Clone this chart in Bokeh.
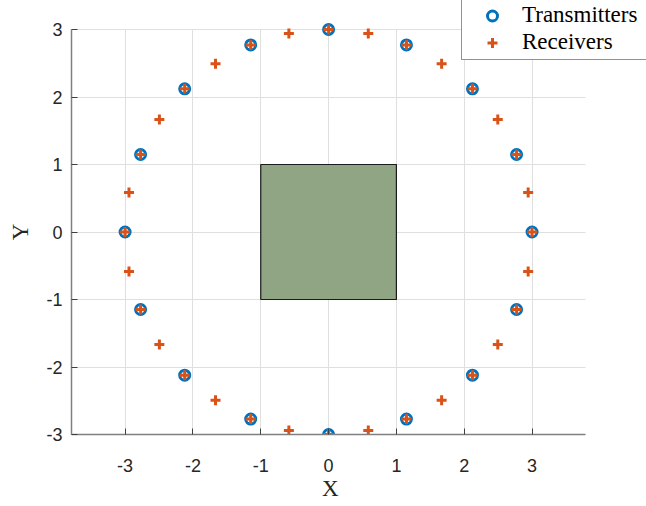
from bokeh.plotting import figure
from bokeh.models import Range1d, FixedTicker, Legend, LegendItem
from bokeh.embed import file_html
from bokeh.resources import INLINE

# Transmitters: 16 positions on a circle of radius 3
tx_x = [3.0, 2.7716, 2.1213, 1.1481, 0.0, -1.1481, -2.1213, -2.7716,
        -3.0, -2.7716, -2.1213, -1.1481, 0.0, 1.1481, 2.1213, 2.7716]
tx_y = [0.0, 1.1481, 2.1213, 2.7716, 3.0, 2.7716, 2.1213, 1.1481,
        0.0, -1.1481, -2.1213, -2.7716, -3.0, -2.7716, -2.1213, -1.1481]

# Receivers: 32 positions on the same circle
rx_x = [3.0, 2.9424, 2.7716, 2.4944, 2.1213, 1.6667, 1.1481, 0.5853,
        0.0, -0.5853, -1.1481, -1.6667, -2.1213, -2.4944, -2.7716, -2.9424,
        -3.0, -2.9424, -2.7716, -2.4944, -2.1213, -1.6667, -1.1481, -0.5853,
        0.0, 0.5853, 1.1481, 1.6667, 2.1213, 2.4944, 2.7716, 2.9424]
rx_y = [0.0, 0.5853, 1.1481, 1.6667, 2.1213, 2.4944, 2.7716, 2.9424,
        3.0, 2.9424, 2.7716, 2.4944, 2.1213, 1.6667, 1.1481, 0.5853,
        0.0, -0.5853, -1.1481, -1.6667, -2.1213, -2.4944, -2.7716, -2.9424,
        -3.0, -2.9424, -2.7716, -2.4944, -2.1213, -1.6667, -1.1481, -0.5853]

# Square object in the middle
obj_left = [-1.0]
obj_right = [1.0]
obj_bottom = [-1.0]
obj_top = [1.0]

x_ticks = [-3, -2, -1, 0, 1, 2, 3]
x_tick_labels = ["-3", "-2", "-1", "0", "1", "2", "3"]
y_ticks = [-3, -2, -1, 0, 1, 2, 3]
y_tick_labels = ["-3", "-2", "-1", "0", "1", "2", "3"]
x_lim = (-3.79, 3.79)
y_lim = (-3, 3)

NBSP = "\u00a0"

W, H = 646, 506
p = figure(width=W, height=H,
           x_range=Range1d(-3.79, 4.687), y_range=Range1d(-3, 3.43),
           output_backend="svg", toolbar_location=None,
           min_border_left=71, min_border_right=0,
           min_border_top=0, min_border_bottom=72)
p.outline_line_color = None
p.background_fill_color = "white"
p.border_fill_color = "white"

p.quad(left=obj_left, right=obj_right, bottom=obj_bottom, top=obj_top,
       fill_color="#8fa584", line_color="#1a1a1a", line_width=1.2)

r_tx = p.scatter(tx_x, tx_y, marker="circle", size=10, fill_color=None,
                 line_color="#0072BD", line_width=3)
r_rx = p.scatter(rx_x, rx_y, marker="cross", size=10,
                 line_color="#D95319", line_width=3)

for ax, ticks, labels in ((p.xaxis, x_ticks, x_tick_labels),
                          (p.yaxis, y_ticks, y_tick_labels)):
    ax.ticker = FixedTicker(ticks=ticks)
    ax.major_label_overrides = {t: s for t, s in zip(ticks, labels)}
    ax.major_tick_in = 6
    ax.major_tick_out = 0
    ax.minor_tick_line_color = None
    ax.axis_line_color = "#808080"
    ax.axis_line_width = 1.5
    ax.major_tick_line_color = "#404040"
    ax.major_label_text_font = "Liberation Sans"
    ax.major_label_text_font_size = "18px"
    ax.major_label_text_color = "#262626"
    ax.axis_label_text_font = "Liberation Serif"
    ax.axis_label_text_font_size = "23px"
    ax.axis_label_text_font_style = "normal"
    ax.axis_label_text_color = "#262626"

p.xaxis.bounds = x_lim
p.yaxis.bounds = y_lim
# padding spaces re-centre the labels on the visible axis extent
p.xaxis.axis_label = "X" + NBSP * 10
p.yaxis.axis_label = "Y" + NBSP * 5
p.xaxis.major_label_standoff = 24
p.yaxis.major_label_standoff = 9
p.xaxis.axis_label_standoff = 1
p.yaxis.axis_label_standoff = 10

p.grid.grid_line_color = "#dfdfdf"
p.grid.grid_line_width = 1
p.xgrid.ticker = FixedTicker(ticks=x_ticks)
p.ygrid.ticker = FixedTicker(ticks=y_ticks)
p.xgrid.cross_bounds = y_lim
p.ygrid.cross_bounds = x_lim

legend = Legend(items=[LegendItem(label="Transmitters", renderers=[r_tx]),
                       LegendItem(label="Receivers", renderers=[r_rx])],
                location=(390, 374))
legend.label_text_font = "Liberation Serif"
legend.label_text_font_size = "23px"
legend.label_text_color = "#000000"
legend.padding = 4
legend.spacing = 1
legend.glyph_width = 52
legend.glyph_height = 25
legend.label_height = 25
legend.label_width = 130
legend.label_standoff = 4
legend.margin = 0
legend.border_line_color = "#262626"
legend.border_line_width = 1
legend.background_fill_color = "white"
legend.background_fill_alpha = 1.0
p.add_layout(legend)

open("out.html", "w").write(file_html(p, INLINE))
